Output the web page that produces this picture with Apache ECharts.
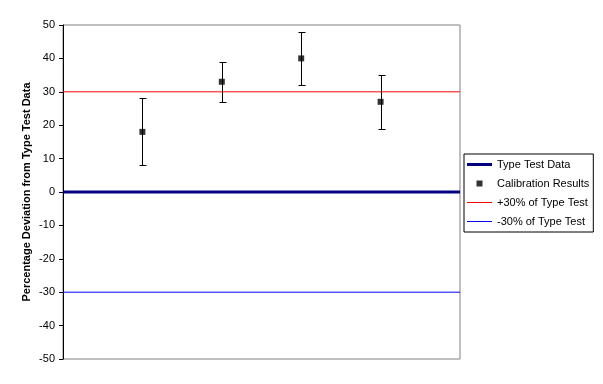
<!DOCTYPE html>
<html><head><meta charset="utf-8">
<script src="https://cdn.jsdelivr.net/npm/echarts@6/dist/echarts.min.js"></script>
<style>html,body{margin:0;padding:0;background:#fff}#c{width:603px;height:384px}</style>
</head><body><div id="c"></div>
<script>
const positions = [1, 2, 3, 4];
const calibration = [18, 33, 40, 27];
const errLow = [8, 27, 32, 19];
const errHigh = [28, 39, 48, 35];
const xRange = [0, 5];
const typeTest = 0;
const plus30 = 30;
const minus30 = -30;
const yTicks = [-50, 50, 10];
const font = 'Liberation Sans, Arial, sans-serif';

const chart = echarts.init(document.getElementById('c'));
const hline = v => [[xRange[0], v], [xRange[1], v]];
chart.setOption({
  animation: false,
  grid: { left: 63, right: 143, top: 25, bottom: 25, show: true, borderColor: '#808080', borderWidth: 1, backgroundColor: '#fff' },
  xAxis: { type: 'value', min: xRange[0], max: xRange[1], show: false },
  yAxis: {
    type: 'value', min: yTicks[0], max: yTicks[1], interval: yTicks[2],
    name: 'Percentage Deviation from Type Test Data', nameLocation: 'middle', nameGap: 31,
    nameMoveOverlap: false,
    nameTextStyle: { fontFamily: font, fontSize: 11, fontWeight: 'bold', color: '#000' },
    axisLine: { show: true, onZero: false, lineStyle: { color: '#000', width: 1 } },
    axisTick: { show: true, length: 4, lineStyle: { color: '#000' } },
    axisLabel: { fontFamily: font, fontSize: 11, color: '#000', margin: 8 },
    splitLine: { show: false }
  },
  legend: {
    orient: 'vertical', left: 464, top: 154,
    padding: [5, 4, 5, 3], itemGap: 8, itemWidth: 25, itemHeight: 6,
    symbolKeepAspect: true,
    borderColor: '#000', borderWidth: 1, backgroundColor: '#fff',
    textStyle: { fontFamily: font, fontSize: 11, lineHeight: 11, color: '#000' },
    data: [
      { name: 'Type Test Data', icon: 'path://M0,0H25V3H0Z', itemStyle: { color: '#000080', borderWidth: 0 } },
      { name: 'Calibration Results', icon: 'path://M0,0H1V1H0Z', itemStyle: { color: '#000', borderWidth: 0 } },
      { name: '+30% of Type Test', icon: 'path://M0,0H25V1H0Z', itemStyle: { color: '#ff0000', borderWidth: 0 } },
      { name: '-30% of Type Test', icon: 'path://M0,0H25V1H0Z', itemStyle: { color: '#0000ff', borderWidth: 0 } }
    ]
  },
  series: [
    { name: 'Type Test Data', type: 'line', data: hline(typeTest), symbol: 'none', lineStyle: { color: '#000080', width: 3 }, itemStyle: { color: '#000080' }, z: 3 },
    { name: '+30% of Type Test', type: 'line', data: hline(plus30), symbol: 'none', lineStyle: { color: '#ff0000', width: 1 }, itemStyle: { color: '#ff0000' }, z: 2 },
    { name: '-30% of Type Test', type: 'line', data: hline(minus30), symbol: 'none', lineStyle: { color: '#0000ff', width: 1 }, itemStyle: { color: '#0000ff' }, z: 2 },
    {
      name: 'errors', type: 'custom', z: 4,
      data: positions.map((p, i) => [p, errLow[i], errHigh[i]]),
      renderItem: (params, api) => {
        const lo = api.coord([api.value(0), api.value(1)]);
        const hi = api.coord([api.value(0), api.value(2)]);
        const x = Math.round(lo[0]) + 0.5, w = 3;
        const st = { stroke: '#000', lineWidth: 1 };
        return { type: 'group', children: [
          { type: 'line', shape: { x1: x, y1: Math.round(lo[1]) + 0.5, x2: x, y2: Math.round(hi[1]) + 0.5 }, style: st },
          { type: 'line', shape: { x1: x - w, y1: Math.round(lo[1]) + 0.5, x2: x + w + 1, y2: Math.round(lo[1]) + 0.5 }, style: st },
          { type: 'line', shape: { x1: x - w, y1: Math.round(hi[1]) + 0.5, x2: x + w + 1, y2: Math.round(hi[1]) + 0.5 }, style: st }
        ]};
      }
    },
    { name: 'Calibration Results', type: 'scatter', z: 5, symbol: 'rect', symbolSize: 6,
      data: positions.map((p, i) => [p, calibration[i]]), itemStyle: { color: '#000' } }
  ]
});
</script></body></html>
